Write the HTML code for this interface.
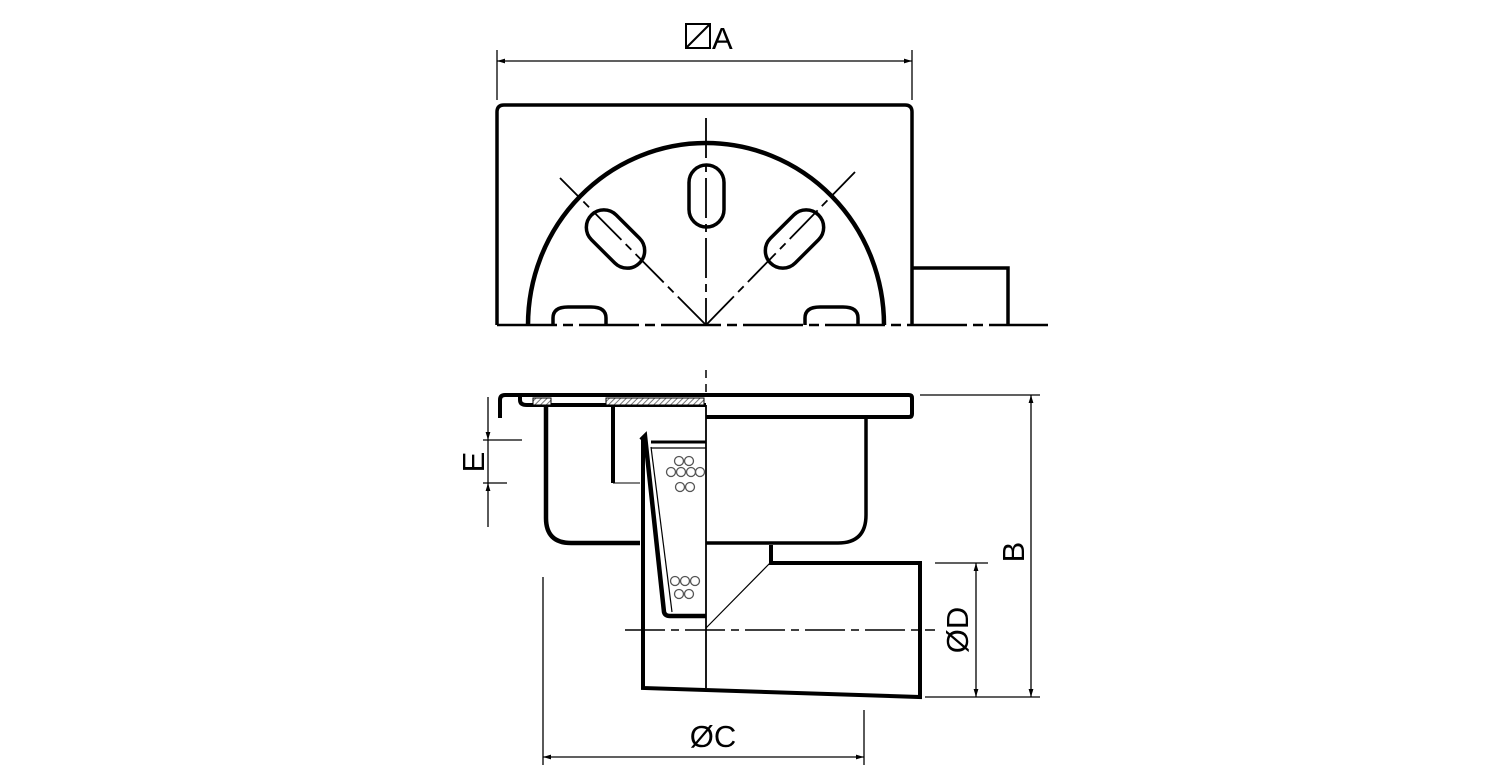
<!DOCTYPE html>
<html><head><meta charset="utf-8"><style>
html,body{margin:0;padding:0;background:#fff;}
svg{display:block}
text{font-family:"Liberation Sans",sans-serif;fill:#000}
</style></head><body>
<svg width="1500" height="781" viewBox="0 0 1500 781" xmlns="http://www.w3.org/2000/svg">
<defs>
<marker id="ar" viewBox="0 0 10 10" refX="10" refY="5" markerWidth="10" markerHeight="8" orient="auto-start-reverse" markerUnits="userSpaceOnUse"><path d="M0,2 L10,5 L0,8z" fill="#000"/></marker>
<pattern id="h" width="4" height="4" patternUnits="userSpaceOnUse" patternTransform="rotate(45)"><rect width="4" height="4" fill="#fff"/><line x1="0" y1="0" x2="0" y2="4" stroke="#777" stroke-width="2"/></pattern>
</defs>
<g fill="none" stroke="#000">
<path d="M497,325 V112 Q497,105 504,105 H905 Q912,105 912,112 V325" stroke-width="3.5"/>
<path d="M912,268 H1008 V325" stroke-width="3.5"/>
<line x1="497" y1="325" x2="1048" y2="325" stroke-width="2.5" stroke-dasharray="60,6,10,6"/>
<path d="M528,325 A178,182 0 0 1 884,325" stroke-width="4.5"/>
<line x1="706" y1="118" x2="706" y2="325" stroke-width="1.8" stroke-dasharray="40,6,8,6"/>
<line x1="706" y1="325" x2="560" y2="178" stroke-width="1.8" stroke-dasharray="40,6,8,6"/>
<line x1="706" y1="325" x2="855" y2="172" stroke-width="1.8" stroke-dasharray="40,6,8,6"/>
<rect x="689" y="165" width="35" height="62" rx="17.5" stroke-width="3.5"/>
<rect x="598" y="205" width="35" height="68" rx="17.5" stroke-width="3.5" transform="rotate(-45 615.5 239)"/>
<rect x="777" y="205" width="35" height="68" rx="17.5" stroke-width="3.5" transform="rotate(45 794.5 239)"/>
<path d="M553,325 V318 Q553,307 568,307 H591 Q606,307 606,318 V325" stroke-width="3.5"/>
<path d="M805,325 V318 Q805,307 820,307 H843 Q858,307 858,318 V325" stroke-width="3.5"/>
<line x1="706" y1="370" x2="706" y2="395" stroke-width="1.5" stroke-dasharray="8,6"/>
<path d="M500,418 V400 Q500,395 505,395 H909 Q912,395 912,398 V414 Q912,417 909,417 H706" stroke-width="4"/>
<path d="M520,395 V400 Q520,405 527,405 H706" stroke-width="4"/>
<rect x="533" y="398" width="18" height="7" fill="url(#h)" stroke-width="1"/>
<rect x="606" y="398" width="98" height="7" fill="url(#h)" stroke-width="1"/>
<path d="M546,405 V518 Q546,543 571,543 H640" stroke-width="4.5"/>
<line x1="613" y1="405" x2="613" y2="483" stroke-width="4"/>
<line x1="613" y1="483" x2="640" y2="483" stroke-width="1"/>
<path d="M643,437 V688 L920,697 V563 H771 V545" stroke-width="4"/>
<path d="M866,417 V515 Q866,543 838,543 H706" stroke-width="3.5"/>
<line x1="706" y1="405" x2="706" y2="688" stroke-width="1.8"/>
<path d="M641,440 L645,436 L664,612 Q665,616 670,616 H706" stroke-width="4.5"/>
<line x1="651" y1="442" x2="706" y2="442" stroke-width="3"/>
<line x1="651" y1="447" x2="672" y2="612" stroke-width="1.2"/>
<line x1="651" y1="448" x2="706" y2="448" stroke-width="1.2"/>
<line x1="706" y1="628" x2="771" y2="562" stroke-width="1.2"/>
<line x1="625" y1="630" x2="935" y2="630" stroke-width="1.5" stroke-dasharray="40,6,8,6"/>
<g stroke="#555" stroke-width="1.3">
<circle cx="679" cy="461" r="4.5"/><circle cx="689" cy="461" r="4.5"/>
<circle cx="671" cy="472" r="4.5"/><circle cx="681" cy="472" r="4.5"/><circle cx="691" cy="472" r="4.5"/><circle cx="700" cy="472" r="4.5"/>
<circle cx="680" cy="487" r="4.5"/><circle cx="690" cy="487" r="4.5"/>
<circle cx="675" cy="581" r="4.5"/><circle cx="685" cy="581" r="4.5"/><circle cx="695" cy="581" r="4.5"/>
<circle cx="679" cy="594" r="4.5"/><circle cx="689" cy="594" r="4.5"/>
</g>
<g stroke-width="1.3">
<line x1="497" y1="50" x2="497" y2="100"/><line x1="912" y1="50" x2="912" y2="100"/>
<line x1="497" y1="61" x2="912" y2="61" marker-start="url(#ar)" marker-end="url(#ar)"/>
<line x1="920" y1="395" x2="1040" y2="395"/><line x1="925" y1="697" x2="1040" y2="697"/>
<line x1="1031" y1="395" x2="1031" y2="697" marker-start="url(#ar)" marker-end="url(#ar)"/>
<line x1="935" y1="563" x2="988" y2="563"/>
<line x1="976" y1="563" x2="976" y2="697" marker-start="url(#ar)" marker-end="url(#ar)"/>
<line x1="543" y1="577" x2="543" y2="765"/><line x1="864" y1="710" x2="864" y2="765"/>
<line x1="543" y1="757" x2="864" y2="757" marker-start="url(#ar)" marker-end="url(#ar)"/>
<line x1="488" y1="397" x2="488" y2="440" marker-end="url(#ar)"/>
<line x1="488" y1="527" x2="488" y2="483" marker-end="url(#ar)"/>
<line x1="488" y1="440" x2="488" y2="483"/>
<line x1="483" y1="440" x2="522" y2="440"/><line x1="483" y1="483" x2="507" y2="483"/>
</g>
</g>
<rect x="686" y="24" width="24" height="24" fill="none" stroke="#000" stroke-width="2"/>
<line x1="686" y1="48" x2="710" y2="24" stroke="#000" stroke-width="2"/>
<text x="712" y="49" font-size="31">A</text>
<text x="713" y="747" font-size="31" text-anchor="middle">ØC</text>
<text transform="translate(1024,552) rotate(-90)" font-size="31" text-anchor="middle">B</text>
<text transform="translate(968,630) rotate(-90)" font-size="31" text-anchor="middle">ØD</text>
<text transform="translate(484,462) rotate(-90)" font-size="31" text-anchor="middle">E</text>
</svg>
</body></html>
